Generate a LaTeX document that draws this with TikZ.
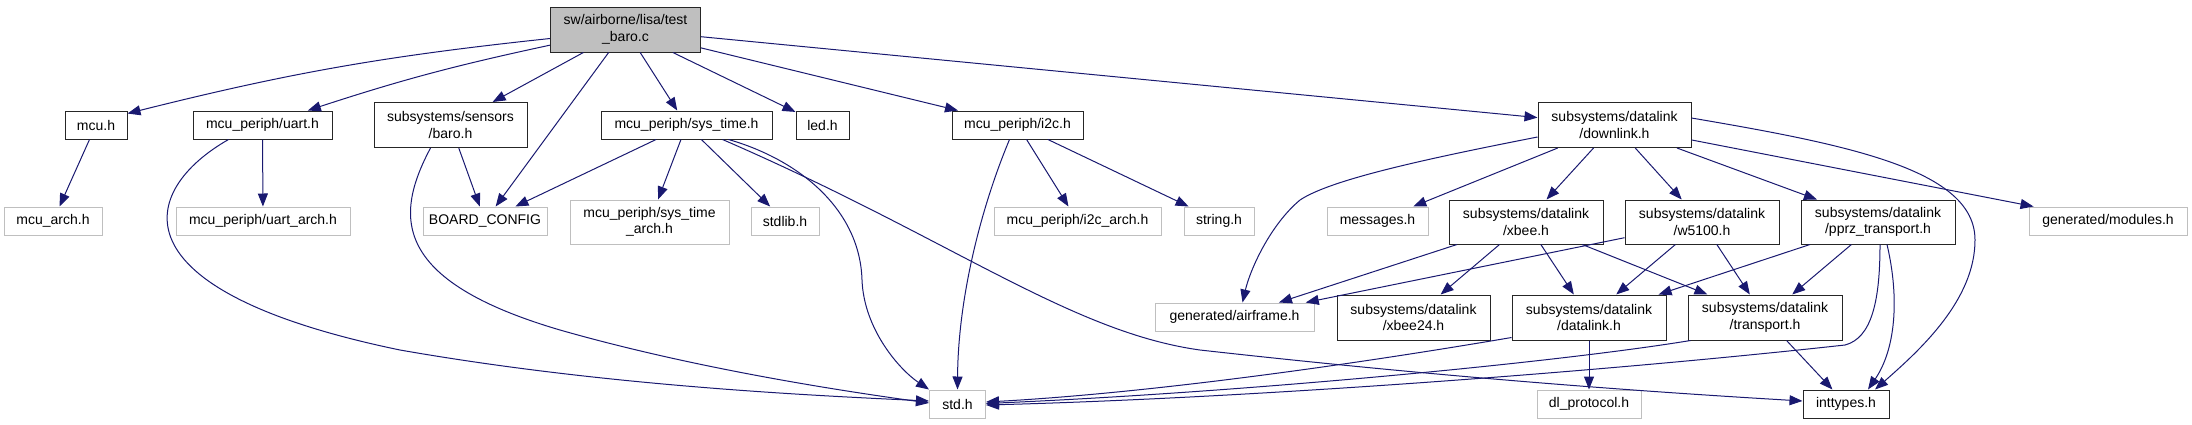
\documentclass[tikz,border=0pt]{standalone}
\usepackage{fontspec}
\setmainfont{Liberation Sans}
\usepackage{xcolor}
\usepackage{tikz}
\usetikzlibrary{arrows.meta,positioning}
\definecolor{dxblue}{HTML}{191970}
\definecolor{dxgray}{HTML}{BFBFBF}

\begin{document}
\begin{tikzpicture}[
  x=1pt, y=-1pt,
  font=\fontsize{14}{16.5}\selectfont,
  >={Triangle[length=13pt,width=10pt]},
  box/.style={draw=black!85, line width=1pt, fill=white, align=center,
              inner sep=0pt, minimum height=28pt},
  box2/.style={box, minimum height=45pt},
  ext/.style={box, draw=dxgray},
  ext2/.style={box2, draw=dxgray},
  dep/.style={->, color=dxblue, line width=1pt}]
\useasboundingbox (0,0) rectangle (2192,424);
\node[box2, fill=dxgray, minimum width=150pt] (root) at (625.5,29.5) {sw/airborne/lisa/test\\\_baro.c};
\node[box, minimum width=62pt] (mcu) at (96,125) {mcu.h};
\node[box, minimum width=139pt] (uart) at (262.5,125) {mcu\_periph/uart.h};
\node[box2, minimum width=153pt] (baro) at (450.5,125) {subsystems/sensors\\/baro.h};
\node[box, minimum width=171pt] (st) at (686.5,125) {mcu\_periph/sys\_time.h};
\node[box, minimum width=53pt] (led) at (822.5,125) {led.h};
\node[box, minimum width=131pt] (i2c) at (1017.5,125) {mcu\_periph/i2c.h};
\node[box2, minimum width=153pt] (dl) at (1614.5,125) {subsystems/datalink\\/downlink.h};
\node[ext, minimum width=98pt] (mcua) at (53,221) {mcu\_arch.h};
\node[ext, minimum width=174pt] (uarta) at (263,221) {mcu\_periph/uart\_arch.h};
\node[ext, minimum width=124pt] (bc) at (485,221) {BOARD\_CONFIG};
\node[ext2, minimum width=159pt, minimum height=44pt] (sta) at (649.5,222) {mcu\_periph/sys\_time\\\_arch.h};
\node[ext, minimum width=68pt] (stdlib) at (785,221) {stdlib.h};
\node[ext, minimum width=167pt] (i2ca) at (1077.5,221) {mcu\_periph/i2c\_arch.h};
\node[ext, minimum width=70pt] (str) at (1219,221) {string.h};
\node[ext, minimum width=101pt] (msg) at (1377.5,221) {messages.h};
\node[box2, minimum width=154pt, minimum height=44pt] (xbee) at (1526,222) {subsystems/datalink\\/xbee.h};
\node[box2, minimum width=154pt, minimum height=44pt] (w5100) at (1702,222) {subsystems/datalink\\/w5100.h};
\node[box2, minimum width=154pt, minimum height=44pt] (pprz) at (1878,222) {subsystems/datalink\\/pprz\_transport.h};
\node[ext, minimum width=158pt] (mod) at (2108,221) {generated/modules.h};
\node[ext, minimum width=159pt] (af) at (1234.5,317) {generated/airframe.h};
\node[box2, minimum width=153pt] (xb24) at (1413.5,317.5) {subsystems/datalink\\/xbee24.h};
\node[box2, minimum width=154pt] (dlk) at (1589,317.5) {subsystems/datalink\\/datalink.h};
\node[box2, minimum width=154pt] (tr) at (1765,317.5) {subsystems/datalink\\/transport.h};
\node[ext, minimum width=56pt] (std) at (957.5,404) {std.h};
\node[ext, minimum width=104pt] (dlp) at (1589,404) {dl\_protocol.h};
\node[box, minimum width=86pt] (int) at (1846,404) {inttypes.h};
\draw[dep] ([yshift=-9pt]root.west) to[bend right=4] ([yshift=-3pt]mcu.north east);
\draw[dep] (root) to[bend right=3] (uart);
\draw[dep] (root) -- (baro);
\draw[dep] (root) -- (bc);
\draw[dep] (root) -- (st);
\draw[dep] (root) -- (led);
\draw[dep] (root) -- (i2c);
\draw[dep] (root) -- (dl);
\draw[dep] (mcu) -- (mcua);
\draw[dep] (uart) -- (uarta);
\draw[dep] ([xshift=-34pt]uart.south) .. controls (140,190) and (110,290) .. (400,350)
  .. controls (600,385) and (800,395) .. ([yshift=3pt]std.west);
\draw[dep] (baro) -- (bc);
\draw[dep] ([xshift=-20pt]baro.south) .. controls (395,215) and (390,280) .. (560,330)
  .. controls (700,370) and (850,392) .. ([yshift=1pt]std.west);
\draw[dep] (st) -- (bc);
\draw[dep] (st) -- (sta);
\draw[dep] (st) -- (stdlib);
\draw[dep] ([xshift=42pt]st.south) .. controls (800,160) and (860,210) .. (862,280)
  .. controls (864,330) and (900,370) .. (std.north west);
\draw[dep] ([xshift=36pt]st.south) .. controls (950,238) and (1070,332) .. (1200,350)
  .. controls (1450,378) and (1650,392) .. ([yshift=3pt]int.west);
\draw[dep] (i2c) -- (i2ca);
\draw[dep] (i2c) -- (str);
\draw[dep] ([xshift=-8pt]i2c.south) .. controls (980,210) and (958,300) .. (std.north);
\draw[dep] ([yshift=-12pt]dl.west) .. controls (1420,160) and (1330,180) .. (1300,200)
  .. controls (1270,225) and (1250,270) .. ([xshift=8pt]af.north);
\draw[dep] (dl) -- (msg);
\draw[dep] (dl) -- (xbee);
\draw[dep] (dl) -- (w5100);
\draw[dep] (dl) -- (pprz);
\draw[dep] (dl) -- (mod);
\draw[dep] ([yshift=7pt]dl.east) .. controls (1850,145) and (1975,170) .. (1975,240)
  .. controls (1975,300) and (1920,350) .. ([xshift=29pt]int.north);
\draw[dep] (xbee) -- (af);
\draw[dep] (xbee) -- (xb24);
\draw[dep] (xbee) -- (dlk);
\draw[dep] (xbee) -- (tr);
\draw[dep] (w5100) -- (af);
\draw[dep] (w5100) -- (dlk);
\draw[dep] (w5100) -- (tr);
\draw[dep] (pprz) -- (dlk);
\draw[dep] (pprz) -- (tr);
\draw[dep] ([xshift=2pt]pprz.south) .. controls (1880,300) and (1872,338) .. (1845,345)
  .. controls (1600,372) and (1250,398) .. ([yshift=-1pt]std.east);
\draw[dep] ([xshift=9pt]pprz.south) .. controls (1900,300) and (1895,350) .. ([xshift=22pt]int.north);
\draw[dep] ([yshift=-20pt]dlk.west) .. controls (1350,365) and (1150,393) .. ([yshift=2pt]std.east);
\draw[dep] (dlk) -- (dlp);
\draw[dep] ([xshift=3pt]tr.south west) .. controls (1560,362) and (1250,392) .. ([yshift=0.5pt]std.east);
\draw[dep] (tr) -- (int);
\end{tikzpicture}
\end{document}
